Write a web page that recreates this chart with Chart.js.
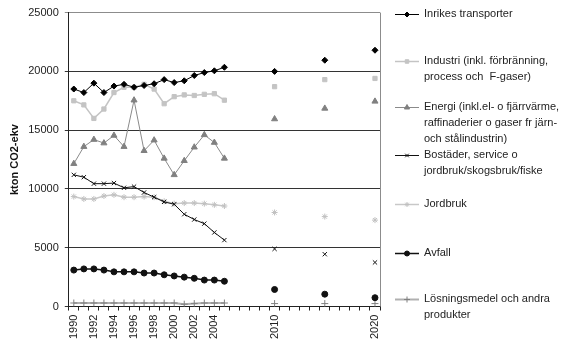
<!DOCTYPE html>
<html>
<head>
<meta charset="utf-8">
<script src="https://cdn.jsdelivr.net/npm/chart.js@4/dist/chart.umd.min.js"></script>
<style>
  html, body { margin: 0; padding: 0; background: #fff; }
  #wrap { width: 569px; height: 343px; }
</style>
</head>
<body>
<div id="wrap"><canvas id="chart" width="569" height="343"></canvas></div>
<script>
const years = [
  "1990", "1991", "1992", "1993", "1994", "1995", "1996", "1997", "1998", "1999",
  "2000", "2001", "2002", "2003", "2004", "2005", "2006", "2007", "2008", "2009",
  "2010", "2011", "2012", "2013", "2014", "2015", "2016", "2017", "2018", "2019", "2020"
];
const shownYears = ["1990", "1992", "1994", "1996", "1998", "2000", "2002", "2004", "2010", "2020"];

// kton CO2-ekv per sektor; 2006-2009, 2011-2014 och 2016-2019 saknas
const transport = [18500, 18200, 19000, 18200, 18750, 18900, 18650, 18800, 18950, 19300,
  19050, 19200, 19650, 19900, 20050, 20350, null, null, null, null,
  20000, null, null, null, null, 20950, null, null, null, null, 21800];
const industri = [17500, 17150, 16000, 16800, 18200, 18650, 18650, 18900, 18500, 17250,
  17850, 18000, 17950, 18050, 18100, 17550, null, null, null, null,
  18700, null, null, null, null, 19300, null, null, null, null, 19400];
const energi = [12150, 13600, 14200, 13900, 14550, 13600, 17550, 13250, 14150, 12600,
  11200, 12400, 13550, 14600, 13950, 12600, null, null, null, null,
  15950, null, null, null, null, 16850, null, null, null, null, 17450];
const bostader = [11200, 11000, 10450, 10450, 10500, 10100, 10200, 9700, 9300, 8900,
  8700, 7850, 7400, 7050, 6300, 5650, null, null, null, null,
  4900, null, null, null, null, 4450, null, null, null, null, 3750];
const jordbruk = [9350, 9150, 9150, 9400, 9500, 9300, 9300, 9350, 9300, 8950,
  8750, 8800, 8800, 8750, 8650, 8550, null, null, null, null,
  8000, null, null, null, null, 7650, null, null, null, null, 7350];
const avfall = [3100, 3200, 3200, 3100, 2950, 2950, 2950, 2850, 2850, 2700,
  2600, 2500, 2400, 2250, 2250, 2150, null, null, null, null,
  1450, null, null, null, null, 1050, null, null, null, null, 750];
const losningsmedel = [300, 300, 300, 300, 300, 300, 300, 300, 300, 300,
  300, 200, 250, 300, 300, 300, null, null, null, null,
  250, null, null, null, null, 250, null, null, null, null, 250];

const legendLines = [
  ["Inrikes transporter"],
  ["Industri (inkl. förbränning,", "process och  F-gaser)"],
  ["Energi (inkl.el- o fjärrvärme,", "raffinaderier o gaser fr järn-", "och stålindustrin)"],
  ["Bostäder, service o", "jordbruk/skogsbruk/fiske"],
  ["Jordbruk"],
  ["Avfall"],
  ["Lösningsmedel och andra", "produkter"]
];
const legendRows = [14, 61, 107, 155, 204, 253, 299];

const FONT = "'Liberation Sans', Arial, sans-serif";
Chart.defaults.font.family = FONT;
Chart.defaults.font.size = 11;
Chart.defaults.color = "#222";

function series(label, data, line, lineWidth, pointStyle, radius, fill, stroke) {
  return {
    label: label,
    data: data,
    borderColor: line,
    borderWidth: lineWidth,
    pointStyle: pointStyle,
    pointRadius: radius,
    pointBackgroundColor: fill,
    pointBorderColor: stroke,
    pointBorderWidth: 1,
    spanGaps: false,
    tension: 0,
    fill: false
  };
}

// legend on the right side and a thin grey frame line
const sideLegend = {
  id: "sideLegend",
  afterDraw(chart) {
    const ctx = chart.ctx;
    const area = chart.chartArea;
    ctx.save();
    ctx.strokeStyle = "#8c8c8c";
    ctx.lineWidth = 1;
    ctx.beginPath();
    ctx.moveTo(Math.round(area.right) + 0.5, area.top);
    ctx.lineTo(Math.round(area.right) + 0.5, area.bottom);
    ctx.stroke();

    chart.data.datasets.forEach((ds, i) => {
      const y = legendRows[i] + 0.5;
      ctx.strokeStyle = ds.borderColor;
      ctx.lineWidth = ds.borderWidth;
      ctx.beginPath();
      ctx.moveTo(395, y);
      ctx.lineTo(419, y);
      ctx.stroke();
      ctx.fillStyle = ds.pointBackgroundColor;
      ctx.strokeStyle = ds.pointBorderColor;
      ctx.lineWidth = 1;
      Chart.helpers.drawPoint(ctx, {
        pointStyle: ds.pointStyle,
        radius: Math.max(ds.pointRadius - 0.5, 2),
        rotation: 0,
        borderWidth: 1
      }, 407, y);

      ctx.fillStyle = "#222";
      ctx.font = "11px " + FONT;
      ctx.textBaseline = "middle";
      ctx.textAlign = "left";
      legendLines[i].forEach((t, k) => {
        ctx.fillText(t, 424, legendRows[i] + k * 16);
      });
    });
    ctx.restore();
  }
};

new Chart(document.getElementById("chart"), {
  type: "line",
  data: {
    labels: years,
    datasets: [
      series("Inrikes transporter", transport, "#000", 1, "rectRot", 3, "#000", "#000"),
      series("Industri", industri, "#c4c4c4", 1.5, "rect", 3, "#c4c4c4", "#c4c4c4"),
      series("Energi", energi, "#8a8a8a", 1, "triangle", 3.5, "#808080", "#808080"),
      series("Bostäder", bostader, "#111", 1, "crossRot", 3, "#111", "#111"),
      series("Jordbruk", jordbruk, "#c8c8c8", 1.5, "star", 3, "#c0c0c0", "#c0c0c0"),
      series("Avfall", avfall, "#111", 1.5, "circle", 3, "#111", "#111"),
      series("Lösningsmedel", losningsmedel, "#b0b0b0", 2, "cross", 3.5, "#808080", "#808080")
    ]
  },
  options: {
    responsive: false,
    animation: false,
    events: [],
    layout: { padding: { left: 8, right: 189, top: 6, bottom: 0 } },
    plugins: {
      legend: { display: false },
      tooltip: { enabled: false }
    },
    scales: {
      x: {
        type: "category",
        offset: true,
        grid: {
          display: true,
          drawOnChartArea: false,
          drawTicks: true,
          tickLength: 4,
          color: "#222",
          offset: true
        },
        border: { color: "#222", width: 1 },
        ticks: {
          autoSkip: false,
          minRotation: 90,
          maxRotation: 90,
          padding: 4,
          color: "#222",
          callback: function (value) {
            const y = this.getLabelForValue(value);
            return shownYears.includes(y) ? y : "";
          }
        }
      },
      y: {
        min: 0,
        max: 25000,
        grid: {
          color: (c) => (c.tick && c.tick.value === 25000 ? "#8c8c8c" : "#333"),
          tickLength: 4,
          drawTicks: true
        },
        border: { color: "#222", width: 1 },
        ticks: {
          stepSize: 5000,
          padding: 6,
          color: "#222",
          callback: (v) => String(v)
        },
        title: {
          display: true,
          text: "kton CO2-ekv",
          font: { size: 11, weight: "bold" },
          color: "#111",
          padding: { top: 0, bottom: 1 }
        }
      }
    }
  },
  plugins: [sideLegend]
});
</script>
</body>
</html>
